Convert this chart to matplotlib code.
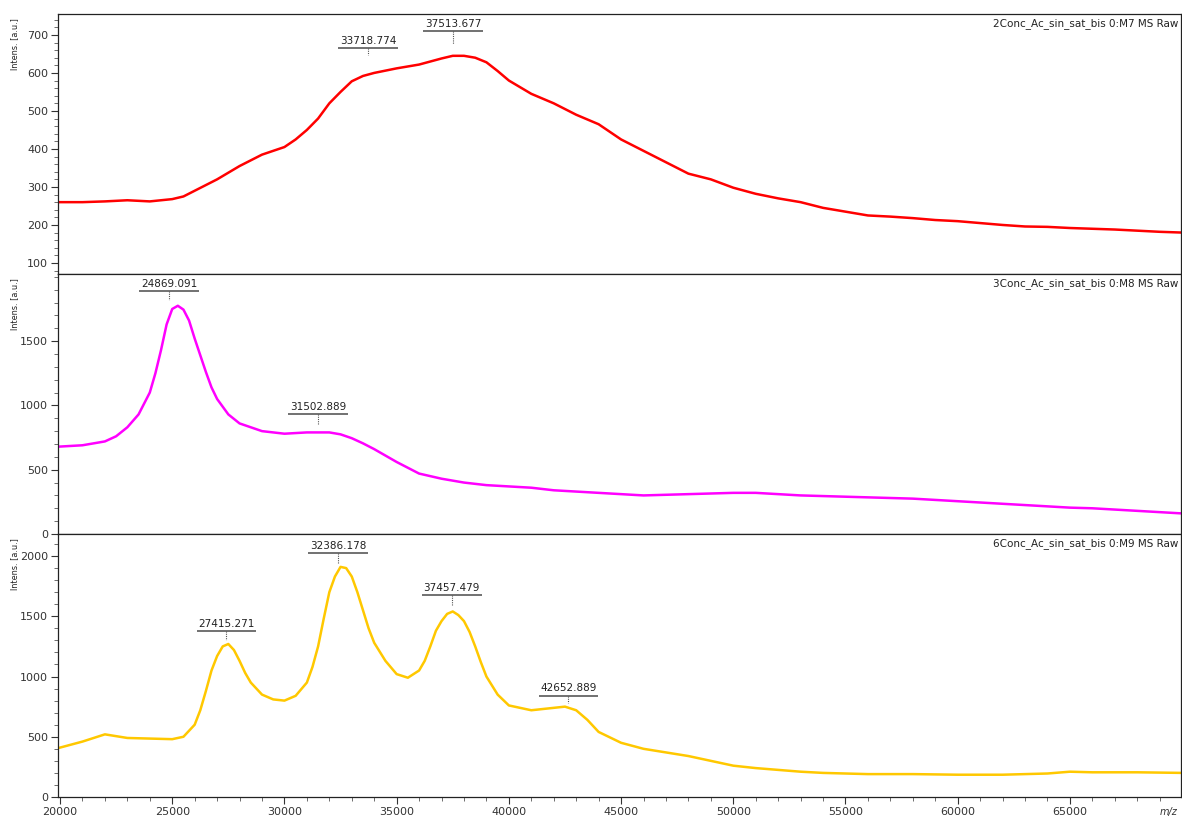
import matplotlib
matplotlib.use("Agg")
import matplotlib.pyplot as plt
from matplotlib.ticker import MultipleLocator

# ---------------- data ----------------
mz_top = [20000, 21000, 22000, 23000, 24000, 25000, 25500, 26000, 27000, 28000, 29000,
          30000, 30500, 31000, 31500, 32000, 32500, 33000, 33500, 34000, 35000, 36000,
          37000, 37500, 38000, 38500, 39000, 39500,
          40000, 41000, 42000, 43000, 44000, 45000, 46000, 47000, 48000, 49000,
          50000, 51000, 52000, 53000, 54000, 55000, 56000, 57000, 58000, 59000,
          60000, 61000, 62000, 63000, 64000, 65000, 66000, 67000, 68000, 69000, 70000]
int_top = [260, 260, 262, 265, 262, 268, 275, 290, 320, 355, 385,
           405, 425, 450, 480, 520, 550, 578, 592, 600, 612, 622,
           638, 645, 645, 640, 628, 605,
           580, 545, 520, 490, 465, 425, 395, 365, 335, 320,
           298, 282, 270, 260, 245, 235, 225, 222, 218, 213,
           210, 205, 200, 196, 195, 192, 190, 188, 185, 182, 180]

mz_mid = [20000, 21000, 22000, 22500, 23000, 23500, 24000, 24250, 24500, 24750,
          25000, 25250, 25500, 25750, 26000, 26250, 26500, 26750, 27000, 27500,
          28000, 29000, 30000, 31000, 32000, 32500, 33000, 33500, 34000, 35000, 36000,
          37000, 38000, 39000, 40000, 41000, 42000, 43000, 44000, 45000, 46000,
          47000, 48000, 49000, 50000, 51000, 52000, 53000, 54000, 55000, 56000,
          57000, 58000, 59000, 60000, 61000, 62000, 63000, 64000, 65000, 66000,
          67000, 68000, 69000, 70000]
int_mid = [680, 690, 720, 760, 830, 930, 1100, 1250, 1430, 1630,
           1750, 1775, 1745, 1660, 1520, 1390, 1260, 1140, 1050, 930,
           860, 800, 780, 790, 790, 775, 745, 705, 660, 560, 470,
           430, 400, 380, 370, 360, 340, 330, 320, 310, 300,
           305, 310, 315, 320, 320, 310, 300, 295, 290, 285,
           280, 275, 265, 255, 245, 235, 225, 215, 205, 200,
           190, 180, 170, 160]

mz_bot = [20000, 21000, 22000, 23000, 24000, 25000, 25500, 26000, 26250, 26500,
          26750, 27000, 27250, 27500, 27750, 28000, 28250, 28500, 29000, 29500,
          30000, 30500, 31000, 31250, 31500, 31750, 32000, 32250, 32500, 32750,
          33000, 33250, 33500, 33750, 34000, 34500, 35000, 35500, 36000, 36250,
          36500, 36750, 37000, 37250, 37500, 37750, 38000, 38250, 38500, 38750,
          39000, 39500, 40000, 41000, 42000, 42500, 43000, 43500, 44000, 45000,
          46000, 47000, 48000, 49000, 50000, 51000, 52000, 53000, 54000, 55000,
          56000, 58000, 60000, 62000, 64000, 65000, 66000, 68000, 70000]
int_bot = [410, 460, 520, 490, 485, 480, 500, 600, 720, 880,
           1050, 1170, 1250, 1270, 1220, 1130, 1030, 950, 850, 810,
           800, 840, 950, 1080, 1250, 1480, 1700, 1830, 1910, 1900,
           1830, 1700, 1550, 1400, 1280, 1130, 1020, 990, 1050, 1130,
           1250, 1380, 1460, 1520, 1540, 1510, 1460, 1370, 1250, 1120,
           1000, 850, 760, 720, 740, 750, 720, 640, 540, 450,
           400, 370, 340, 300, 260, 240, 225, 210, 200, 195,
           190, 190, 185, 185, 195, 210, 205, 205, 200]

titles = ["2Conc_Ac_sin_sat_bis 0:M7 MS Raw",
          "3Conc_Ac_sin_sat_bis 0:M8 MS Raw",
          "6Conc_Ac_sin_sat_bis 0:M9 MS Raw"]
colors = ["#ff0000", "#ff00ff", "#ffc800"]

# peak labels: m/z, label-line level, peak-top level
peaks_top = [33718.774, 37513.677]
peak_line_top = [666, 710]
peak_end_top = [647, 676]
peaks_mid = [24869.091, 31502.889]
peak_line_mid = [1890, 933]
peak_end_mid = [1820, 848]
peaks_bot = [27415.271, 32386.178, 37457.479, 42652.889]
peak_line_bot = [1375, 2025, 1675, 842]
peak_end_bot = [1300, 1942, 1592, 783]

x_ticks = [20000, 25000, 30000, 35000, 40000, 45000, 50000, 55000, 60000, 65000]

# ---------------- figure ----------------
plt.rcParams['font.family'] = ['DejaVu Sans']
fig = plt.figure(figsize=(11.82, 8.19), dpi=100)

left, width = 58 / 1182, 1123 / 1182
rows = [(274, 14), (534, 274), (797, 534)]
ylims = [(71, 755), (0, 2022), (0, 2183)]
yminor = [20, 100, 100]
yticks = [[100, 200, 300, 400, 500, 600, 700], [0, 500, 1000, 1500], [0, 500, 1000, 1500, 2000]]
series = [(mz_top, int_top), (mz_mid, int_mid), (mz_bot, int_bot)]
peaks = [(peaks_top, peak_line_top, peak_end_top),
         (peaks_mid, peak_line_mid, peak_end_mid),
         (peaks_bot, peak_line_bot, peak_end_bot)]

for i in range(3):
    b, t = rows[i]
    ax = fig.add_axes([left, 1 - b / 819, width, (b - t) / 819])
    mz, inten = series[i]
    ax.plot(mz, inten, color=colors[i], lw=1.8, solid_joinstyle='round')
    ax.set_xlim(19910, 69950)
    ax.set_ylim(*ylims[i])
    ax.set_yticks(yticks[i])
    ax.yaxis.set_minor_locator(MultipleLocator(yminor[i]))
    ax.xaxis.set_minor_locator(MultipleLocator(1000))
    ax.set_xticks(x_ticks)
    ax.tick_params(axis='y', which='major', direction='out', length=5, width=0.8,
                   labelsize=8, colors='#333333', pad=2)
    ax.tick_params(axis='y', which='minor', direction='out', length=3, width=0.6, colors='#555555')
    ax.tick_params(axis='x', which='major', direction='out', length=5, width=0.8,
                   labelsize=8, colors='#333333', pad=2)
    ax.tick_params(axis='x', which='minor', direction='out', length=3, width=0.6, colors='#555555')
    ax.tick_params(right=False, top=False)
    if i < 2:
        ax.tick_params(axis='x', which='both', bottom=False, labelbottom=False)
    for s in ax.spines.values():
        s.set_color('#222222')
        s.set_linewidth(0.9)
    ax.text(0.998, 0.985, titles[i], transform=ax.transAxes, ha='right', va='top',
            fontsize=7.5, color='#222222')
    ax.text(-0.039, 0.985, "Intens. [a.u.]", transform=ax.transAxes, rotation=90,
            ha='center', va='top', fontsize=6.5, color='#222222', fontstretch='condensed')
    pk, pl, pe = peaks[i]
    for xm, yl, ye in zip(pk, pl, pe):
        ax.plot([xm - 1330, xm + 1330], [yl, yl], color='#666666', lw=1.3,
                solid_capstyle='butt')
        ax.plot([xm, xm], [yl, ye], color='#555555', lw=0.8, ls=(0, (1, 1)))
        ax.annotate(f"{xm:.3f}", (xm, yl), xytext=(0, 1.5), textcoords='offset points',
                    ha='center', va='bottom', fontsize=7.5, color='#222222')

fig.text(1178 / 1182, 1 - 817 / 819, "m/z", style='italic', fontsize=7,
         ha='right', va='bottom', color='#333333')

fig.savefig("out.png", dpi=100)
